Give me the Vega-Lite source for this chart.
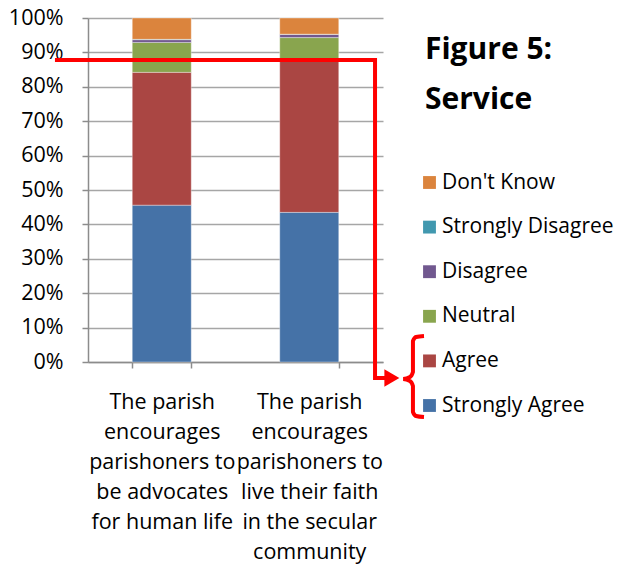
{
  "$schema": "https://vega.github.io/schema/vega-lite/v6.json",
  "width": 295,
  "height": 344,
  "autosize": "none",
  "padding": {"left": 88, "top": 18, "right": 235, "bottom": 202},
  "background": "white",
  "config": {
    "font": "Open Sans",
    "view": {"stroke": null},
    "axis": {"labelColor": "#000000", "labelFontSize": 21.5, "domainColor": "#8c8c8c", "tickColor": "#8c8c8c", "domainWidth": 1.5, "tickWidth": 1.5},
    "axisY": {"title": null, "format": ".0%", "values": [0, 0.1, 0.2, 0.3, 0.4, 0.5, 0.6, 0.7, 0.8, 0.9, 1], "grid": true, "gridColor": "#a6a6a6", "gridWidth": 1.5, "tickSize": 6, "labelPadding": 19, "labelOverlap": false}
  },
  "title": {
    "text": ["Figure 5:", "Service"],
    "anchor": "start",
    "frame": "group",
    "fontSize": 30,
    "fontWeight": "bold",
    "color": "#000000",
    "lineHeight": 50,
    "baseline": "top",
    "dx": 337,
    "dy": 108,
    "offset": 0
  },
  "datasets": {
    "bars": [
      {"item": "The parish|encourages|parishoners to|be advocates|for human life", "response": "Strongly Agree", "ord": 1, "value": 0.456},
      {"item": "The parish|encourages|parishoners to|be advocates|for human life", "response": "Agree", "ord": 2, "value": 0.386},
      {"item": "The parish|encourages|parishoners to|be advocates|for human life", "response": "Neutral", "ord": 3, "value": 0.087},
      {"item": "The parish|encourages|parishoners to|be advocates|for human life", "response": "Disagree", "ord": 4, "value": 0.008},
      {"item": "The parish|encourages|parishoners to|be advocates|for human life", "response": "Strongly Disagree", "ord": 5, "value": 0.001},
      {"item": "The parish|encourages|parishoners to|be advocates|for human life", "response": "Don't Know", "ord": 6, "value": 0.062},
      {"item": "The parish|encourages|parishoners to|live their faith|in the secular|community", "response": "Strongly Agree", "ord": 1, "value": 0.435},
      {"item": "The parish|encourages|parishoners to|live their faith|in the secular|community", "response": "Agree", "ord": 2, "value": 0.44},
      {"item": "The parish|encourages|parishoners to|live their faith|in the secular|community", "response": "Neutral", "ord": 3, "value": 0.068},
      {"item": "The parish|encourages|parishoners to|live their faith|in the secular|community", "response": "Disagree", "ord": 4, "value": 0.009},
      {"item": "The parish|encourages|parishoners to|live their faith|in the secular|community", "response": "Strongly Disagree", "ord": 5, "value": 0.001},
      {"item": "The parish|encourages|parishoners to|live their faith|in the secular|community", "response": "Don't Know", "ord": 6, "value": 0.047}
    ],
    "redline": [
      {"k": 1, "x": -0.224, "y": 0.878},
      {"k": 2, "x": 1.946, "y": 0.878},
      {"k": 3, "x": 1.946, "y": -0.0465},
      {"k": 4, "x": 2.04, "y": -0.0465}
    ],
    "arrow": [
      {"x": 2.06, "y": -0.0465}
    ],
    "brace": [
      {"k": 1, "x": 2.278, "y": 0.0756},
      {"k": 2, "x": 2.224, "y": 0.0727},
      {"k": 3, "x": 2.203, "y": 0.061},
      {"k": 4, "x": 2.203, "y": -0.0291},
      {"k": 5, "x": 2.183, "y": -0.0436},
      {"k": 6, "x": 2.136, "y": -0.0494},
      {"k": 7, "x": 2.183, "y": -0.0552},
      {"k": 8, "x": 2.203, "y": -0.0698},
      {"k": 9, "x": 2.203, "y": -0.1453},
      {"k": 10, "x": 2.224, "y": -0.157},
      {"k": 11, "x": 2.278, "y": -0.16}
    ]
  },
  "layer": [
    {
      "data": {"name": "bars"},
      "mark": {"type": "bar", "stroke": "#ffffff", "strokeOpacity": 0.35, "strokeWidth": 1},
      "encoding": {
        "x": {
          "field": "item", "type": "nominal", "sort": null,
          "scale": {"paddingInner": 0.6, "paddingOuter": 0.3},
          "axis": {
            "title": null, "labelAngle": 0, "labelExpr": "split(datum.label, '|')",
            "labelLineHeight": 30, "labelLimit": 0, "labelOverlap": false, "labelBound": false,
            "labelPadding": 23, "ticks": true, "tickBand": "extent", "tickSize": 6
          }
        },
        "y": {
          "field": "value", "type": "quantitative", "stack": "zero", "title": null,
          "scale": {"domain": [0, 1], "nice": false}
        },
        "color": {
          "field": "response", "type": "nominal",
          "scale": {
            "domain": ["Don't Know", "Strongly Disagree", "Disagree", "Neutral", "Agree", "Strongly Agree"],
            "range": ["#DB843D", "#4198AF", "#71588F", "#89A54E", "#AA4643", "#4572A7"]
          },
          "legend": {
            "title": null, "orient": "none", "legendX": 331, "legendY": 154,
            "symbolType": "square", "symbolSize": 165, "symbolStrokeWidth": 0,
            "labelFontSize": 21, "labelColor": "#000000", "rowPadding": 22.6, "labelOffset": 2, "labelLimit": 300
          }
        },
        "order": {"field": "ord", "type": "quantitative"}
      }
    },
    {
      "data": {"name": "redline"},
      "mark": {"type": "line", "color": "#ff0000", "strokeWidth": 4, "strokeJoin": "miter", "strokeCap": "butt"},
      "encoding": {
        "x": {"field": "x", "type": "quantitative", "scale": {"domain": [0, 2], "nice": false, "zero": false}, "axis": null},
        "y": {"field": "y", "type": "quantitative", "title": null, "scale": {"domain": [0, 1], "nice": false}},
        "order": {"field": "k", "type": "quantitative"}
      }
    },
    {
      "data": {"name": "arrow"},
      "mark": {"type": "point", "shape": "triangle-right", "filled": true, "color": "#ff0000", "opacity": 1, "size": 300},
      "encoding": {
        "x": {"field": "x", "type": "quantitative", "scale": {"domain": [0, 2], "nice": false, "zero": false}, "axis": null},
        "y": {"field": "y", "type": "quantitative", "title": null, "scale": {"domain": [0, 1], "nice": false}}
      }
    },
    {
      "data": {"name": "brace"},
      "mark": {"type": "line", "color": "#ff0000", "strokeWidth": 4, "interpolate": "monotone"},
      "encoding": {
        "x": {"field": "x", "type": "quantitative", "scale": {"domain": [0, 2], "nice": false, "zero": false}, "axis": null},
        "y": {"field": "y", "type": "quantitative", "title": null, "scale": {"domain": [0, 1], "nice": false}},
        "order": {"field": "k", "type": "quantitative"}
      }
    }
  ],
  "resolve": {"scale": {"x": "independent"}}
}
